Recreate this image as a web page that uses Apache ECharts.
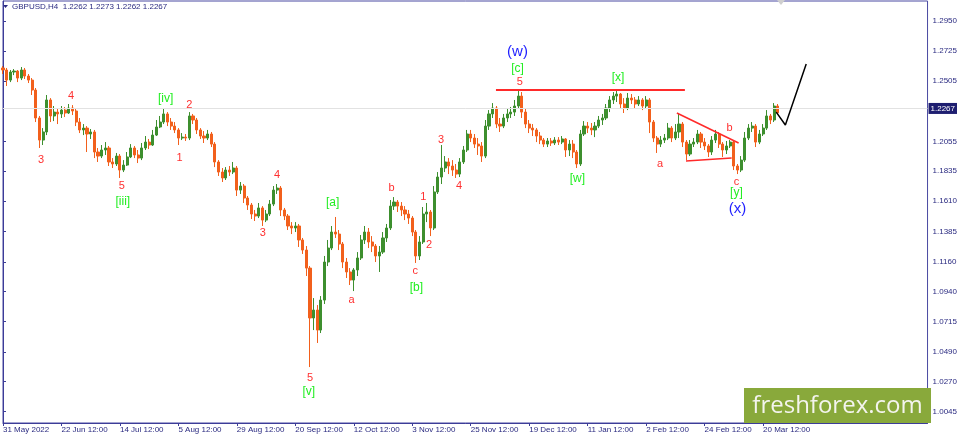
<!DOCTYPE html>
<html>
<head>
<meta charset="utf-8">
<script src="https://cdn.jsdelivr.net/npm/echarts@6/dist/echarts.min.js"></script>
<style>
html,body{margin:0;padding:0;background:#fff;}
#chart{width:960px;height:438px;}
</style>
</head>
<body>
<div id="chart"></div>
<script>
// x-axis tick labels (one every 16 daily candles)
const tickLabels = ["31 May 2022","22 Jun 12:00","14 Jul 12:00","5 Aug 12:00","29 Aug 12:00","20 Sep 12:00","12 Oct 12:00","3 Nov 12:00","25 Nov 12:00","19 Dec 12:00","11 Jan 12:00","2 Feb 12:00","24 Feb 12:00","20 Mar 12:00"];
// price-axis tick labels
const priceTicks = [1.0045,1.0270,1.0490,1.0715,1.0940,1.1160,1.1385,1.1610,1.1835,1.2055,1.2505,1.2725,1.2950];
const lastPrice = 1.2267;
const headerText = "GBPUSD,H4  1.2262 1.2273 1.2262 1.2267";

// candles: [open, close, low, high]
const candles = [
[1.2601,1.2586,1.2556,1.2615],[1.2586,1.2511,1.2467,1.2601],[1.2511,1.2571,1.2496,1.2586],[1.2571,1.2578,1.2548,1.2593],
[1.2578,1.2526,1.2496,1.2586],[1.2526,1.2586,1.2511,1.2608],[1.2586,1.2541,1.2519,1.2601],[1.2541,1.2511,1.2489,1.2556],
[1.2511,1.2437,1.2400,1.2526],[1.2437,1.2229,1.2199,1.2452],[1.2229,1.2065,1.2006,1.2244],[1.2065,1.2125,1.2028,1.2154],
[1.2125,1.2363,1.2102,1.2400],[1.2363,1.2244,1.2199,1.2377],[1.2244,1.2273,1.2206,1.2318],[1.2273,1.2259,1.2184,1.2303],
[1.2259,1.2288,1.2229,1.2318],[1.2288,1.2266,1.2236,1.2311],[1.2266,1.2303,1.2259,1.2333],[1.2303,1.2281,1.2251,1.2325],
[1.2281,1.2199,1.2169,1.2303],[1.2199,1.2140,1.2117,1.2229],[1.2140,1.2154,1.2102,1.2184],[1.2154,1.2110,1.1976,1.2169],
[1.2110,1.2125,1.2073,1.2147],[1.2125,1.1976,1.1931,1.2140],[1.1976,1.1946,1.1902,1.2006],[1.1946,1.1991,1.1931,1.2028],
[1.1991,1.2006,1.1954,1.2050],[1.2006,1.1902,1.1872,1.2021],[1.1902,1.1887,1.1857,1.1931],[1.1887,1.1946,1.1872,1.1969],
[1.1946,1.1842,1.1783,1.1961],[1.1842,1.1879,1.1827,1.1916],[1.1879,1.1939,1.1872,1.1976],[1.1939,1.2006,1.1931,1.2035],
[1.2006,1.1954,1.1931,1.2021],[1.1954,1.1931,1.1894,1.1991],[1.1931,1.2006,1.1916,1.2043],[1.2006,1.2050,1.1991,1.2095],
[1.2050,1.2028,1.1998,1.2073],[1.2028,1.2102,1.2021,1.2140],[1.2102,1.2162,1.2095,1.2214],[1.2162,1.2199,1.2154,1.2244],
[1.2199,1.2259,1.2184,1.2296],[1.2259,1.2199,1.2169,1.2273],[1.2199,1.2169,1.2140,1.2229],[1.2169,1.2140,1.2117,1.2199],
[1.2140,1.2080,1.2028,1.2154],[1.2080,1.2087,1.2065,1.2117],[1.2087,1.2080,1.2058,1.2110],[1.2080,1.2244,1.2065,1.2273],
[1.2244,1.2214,1.2184,1.2259],[1.2214,1.2140,1.2110,1.2229],[1.2140,1.2095,1.2073,1.2154],[1.2095,1.2080,1.2043,1.2132],
[1.2080,1.2110,1.2065,1.2140],[1.2110,1.2035,1.2013,1.2125],[1.2035,1.1902,1.1864,1.2050],[1.1902,1.1827,1.1798,1.1916],
[1.1827,1.1783,1.1753,1.1857],[1.1783,1.1842,1.1768,1.1864],[1.1842,1.1827,1.1798,1.1872],[1.1827,1.1857,1.1812,1.1902],
[1.1857,1.1693,1.1649,1.1872],[1.1693,1.1723,1.1664,1.1753],[1.1723,1.1634,1.1597,1.1738],[1.1634,1.1582,1.1545,1.1649],
[1.1582,1.1515,1.1478,1.1597],[1.1515,1.1500,1.1463,1.1545],[1.1500,1.1560,1.1485,1.1597],[1.1560,1.1470,1.1426,1.1574],
[1.1470,1.1515,1.1455,1.1545],[1.1515,1.1589,1.1500,1.1619],[1.1589,1.1693,1.1574,1.1723],[1.1693,1.1708,1.1664,1.1738],
[1.1708,1.1545,1.1500,1.1723],[1.1545,1.1500,1.1470,1.1560],[1.1500,1.1426,1.1396,1.1515],[1.1426,1.1411,1.1366,1.1455],
[1.1411,1.1426,1.1381,1.1455],[1.1426,1.1322,1.1270,1.1441],[1.1322,1.1247,1.1218,1.1337],[1.1247,1.1113,1.1054,1.1277],
[1.1113,1.0742,1.0377,1.1128],[1.0742,1.0801,1.0652,1.0890],[1.0801,1.0652,1.0556,1.0838],[1.0652,1.0875,1.0630,1.0905],
[1.0875,1.1158,1.0846,1.1203],[1.1158,1.1262,1.1128,1.1322],[1.1262,1.1381,1.1247,1.1426],[1.1381,1.1366,1.1337,1.1493],
[1.1366,1.1292,1.1247,1.1396],[1.1292,1.1158,1.1113,1.1307],[1.1158,1.1084,1.1039,1.1188],[1.1084,1.1024,1.0987,1.1113],
[1.1024,1.1099,1.0942,1.1113],[1.1099,1.1188,1.1054,1.1232],[1.1188,1.1322,1.1173,1.1359],[1.1322,1.1381,1.1292,1.1426],
[1.1381,1.1307,1.1262,1.1411],[1.1307,1.1277,1.1232,1.1351],[1.1277,1.1203,1.1158,1.1292],[1.1203,1.1232,1.1084,1.1277],
[1.1232,1.1337,1.1218,1.1381],[1.1337,1.1411,1.1307,1.1441],[1.1411,1.1574,1.1396,1.1619],[1.1574,1.1604,1.1545,1.1641],
[1.1604,1.1574,1.1530,1.1619],[1.1574,1.1545,1.1500,1.1604],[1.1545,1.1515,1.1470,1.1574],[1.1515,1.1485,1.1441,1.1545],
[1.1485,1.1381,1.1351,1.1500],[1.1381,1.1203,1.1151,1.1396],[1.1203,1.1307,1.1173,1.1351],[1.1307,1.1515,1.1292,1.1567],
[1.1515,1.1530,1.1455,1.1597],[1.1530,1.1411,1.1351,1.1545],[1.1411,1.1679,1.1396,1.1723],[1.1679,1.1790,1.1664,1.1827],
[1.1790,1.1857,1.1738,1.2028],[1.1857,1.1902,1.1827,1.1946],[1.1902,1.1872,1.1812,1.1931],[1.1872,1.1842,1.1798,1.1916],
[1.1842,1.1812,1.1783,1.1887],[1.1812,1.1902,1.1790,1.1931],[1.1902,1.1991,1.1887,1.2021],[1.1991,1.2110,1.1976,1.2140],
[1.2110,1.2080,1.2050,1.2140],[1.2080,1.2035,1.2006,1.2110],[1.2035,1.2021,1.1954,1.2080],[1.2021,1.1946,1.1902,1.2050],
[1.1946,1.2169,1.1931,1.2214],[1.2169,1.2259,1.2140,1.2288],[1.2259,1.2303,1.2229,1.2340],[1.2303,1.2184,1.2154,1.2318],
[1.2184,1.2169,1.2125,1.2229],[1.2169,1.2229,1.2154,1.2259],[1.2229,1.2259,1.2199,1.2296],[1.2259,1.2273,1.2229,1.2311],
[1.2273,1.2318,1.2244,1.2363],[1.2318,1.2392,1.2303,1.2437],[1.2392,1.2273,1.2229,1.2422],[1.2273,1.2184,1.2154,1.2303],
[1.2184,1.2154,1.2117,1.2214],[1.2154,1.2140,1.2095,1.2184],[1.2140,1.2095,1.2050,1.2154],[1.2095,1.2065,1.2035,1.2125],
[1.2065,1.2035,1.2013,1.2080],[1.2035,1.2058,1.2013,1.2080],[1.2058,1.2043,1.2021,1.2080],[1.2043,1.2065,1.2028,1.2087],
[1.2065,1.2050,1.2028,1.2087],[1.2050,1.2073,1.2035,1.2095],[1.2073,1.1991,1.1939,1.2080],[1.1991,1.2035,1.1946,1.2065],
[1.2035,1.1976,1.1931,1.2065],[1.1976,1.1887,1.1857,1.1991],[1.1887,1.2110,1.1872,1.2140],[1.2110,1.2169,1.2095,1.2206],
[1.2169,1.2154,1.2117,1.2199],[1.2154,1.2140,1.2102,1.2192],[1.2140,1.2169,1.2087,1.2199],[1.2169,1.2214,1.2154,1.2244],
[1.2214,1.2229,1.2177,1.2259],[1.2229,1.2303,1.2214,1.2333],[1.2303,1.2363,1.2273,1.2392],[1.2363,1.2392,1.2333,1.2422],
[1.2392,1.2407,1.2348,1.2437],[1.2407,1.2333,1.2303,1.2415],[1.2333,1.2303,1.2266,1.2377],[1.2303,1.2377,1.2288,1.2415],
[1.2377,1.2363,1.2333,1.2407],[1.2363,1.2333,1.2303,1.2385],[1.2333,1.2363,1.2318,1.2392],[1.2363,1.2318,1.2288,1.2377],
[1.2318,1.2363,1.2303,1.2392],[1.2363,1.2199,1.2117,1.2377],[1.2199,1.2080,1.2050,1.2214],[1.2080,1.2035,1.1969,1.2095],
[1.2035,1.2065,1.2013,1.2095],[1.2065,1.2080,1.2043,1.2110],[1.2080,1.2154,1.2065,1.2192],[1.2154,1.2080,1.2050,1.2169],
[1.2080,1.2125,1.2065,1.2184],[1.2125,1.2184,1.2080,1.2266],[1.2184,1.2050,1.2013,1.2199],[1.2050,1.1961,1.1916,1.2065],
[1.1961,1.2035,1.1946,1.2065],[1.2035,1.2050,1.2013,1.2080],[1.2050,1.2110,1.2035,1.2140],[1.2110,1.2050,1.2006,1.2125],
[1.2050,1.2021,1.1991,1.2080],[1.2021,1.1976,1.1939,1.2035],[1.1976,1.2065,1.1954,1.2095],[1.2065,1.2110,1.2043,1.2140],
[1.2110,1.2035,1.2006,1.2125],[1.2035,1.1991,1.1939,1.2050],[1.1991,1.2021,1.1961,1.2058],[1.2021,1.2050,1.2006,1.2065],
[1.2050,1.1872,1.1842,1.2065],[1.1872,1.1842,1.1812,1.1887],[1.1842,1.1916,1.1827,1.1946],[1.1916,1.2080,1.1902,1.2125],
[1.2080,1.2154,1.2065,1.2184],[1.2154,1.2169,1.2125,1.2199],[1.2169,1.2050,1.2013,1.2184],[1.2050,1.2110,1.2035,1.2140],
[1.2110,1.2154,1.2095,1.2184],[1.2154,1.2244,1.2140,1.2288],[1.2244,1.2214,1.2184,1.2259],[1.2214,1.2318,1.2199,1.2340],
[1.2318,1.2267,1.2259,1.2333]
];

// drawn lines in [candle index, price]
const resistanceLine = [[134.9,1.2437],[186.6,1.2437]];
const triangleUpper = [[184.4,1.2266],[201.3,1.2043]];
const triangleLower = [[186.9,1.1909],[199.4,1.1931]];
const projection = [[211.6,1.2273],[214.1,1.2177],[219.8,1.2630]];

// wave labels: [text, candle index, price, kind]
const waveLabels = [
["3",10.4,1.1916,"r"],["4",18.6,1.2392,"r"],["5",32.5,1.1723,"r"],["[iii]",32.8,1.1604,"g"],
["[iv]",44.5,1.2370,"g"],["1",48.3,1.1931,"r"],["2",51.0,1.2325,"r"],["3",71.1,1.1374,"r"],
["4",75.0,1.1805,"r"],["5",84.0,1.0296,"r"],["[v]",83.7,1.0191,"g"],["[a]",90.2,1.1597,"g"],
["a",95.4,1.0875,"r"],["b",106.3,1.1708,"r"],["c",112.8,1.1091,"r"],["[b]",113.1,1.0965,"g"],
["1",115.0,1.1641,"r"],["2",116.6,1.1285,"r"],["3",119.9,1.2065,"r"],["4",124.8,1.1723,"r"],
["(w)",140.8,1.2719,"b"],["[c]",140.8,1.2593,"g"],["5",141.4,1.2496,"r"],["[w]",157.2,1.1775,"g"],
["[x]",168.3,1.2526,"g"],["a",179.8,1.1887,"r"],["b",198.8,1.2154,"r"],["c",200.7,1.1753,"r"],
["[y]",200.7,1.1671,"g"],["(x)",201.0,1.1552,"b"]
];

const N = 254;
const categories = [];
for (let i = 0; i < N; i++) categories.push('d' + i);

const labelStyle = {
  r: {color:'#ff3030', fontSize:11},
  g: {color:'#22ee22', fontSize:12},
  b: {color:'#1f1fff', fontSize:15}
};

function isTick(idx){ return idx % 16 === 0 && idx / 16 < tickLabels.length; }

const chart = echarts.init(document.getElementById('chart'), null, {renderer:'canvas'});
const font = 'Liberation Sans, Arial, sans-serif';

function lineSeries(data, color, width) {
  return {
    type:'line', xAxisIndex:1, yAxisIndex:0, data:data, symbol:'none',
    lineStyle:{color:color, width:width}, silent:true, animation:false, z:5
  };
}

chart.setOption({
  animation:false,
  backgroundColor:'#ffffff',
  grid:{left:1.7, right:29, top:1, bottom:15, show:true, borderColor:'#4a4aa2', borderWidth:1},
  xAxis:[{
    type:'category', data:categories, boundaryGap:false,
    axisLine:{lineStyle:{color:'#3c3c98', width:1}},
    axisTick:{show:true, interval:function(idx){ return isTick(idx); }, length:3, lineStyle:{color:'#3c3c98'}},
    axisLabel:{interval:function(idx){ return isTick(idx); }, align:'left', margin:3, fontSize:8, fontFamily:font, color:'#2a2a80',
      formatter:function(v, idx){ return tickLabels[idx/16] || ''; }},
    splitLine:{show:false}
  },{
    type:'value', min:0, max:N-1, show:false
  }],
  yAxis:[{
    type:'value', position:'right', min:0.9961, max:1.3099,
    axisLine:{show:true, lineStyle:{color:'#3c3c98', width:1}},
    axisTick:{show:true, length:3, customValues:priceTicks, lineStyle:{color:'#3c3c98'}},
    axisLabel:{customValues:priceTicks, margin:5, fontSize:8, fontFamily:font, color:'#2a2a80',
      formatter:function(v){ return v.toFixed(4); }},
    splitLine:{show:false}
  }],
  series:[
    {
      type:'candlestick', xAxisIndex:0, yAxisIndex:0, data:candles, barWidth:2.6,
      itemStyle:{color:'#3d8f2e', color0:'#f2601c', borderColor:'#3d8f2e', borderColor0:'#f2601c', borderWidth:1},
      markLine:{
        silent:true, symbol:'none', animation:false,
        lineStyle:{color:'#e2e2e2', type:'solid', width:1},
        label:{show:true, position:'end', distance:1, formatter:lastPrice.toFixed(4),
          backgroundColor:'#1e1e70', color:'#ffffff', padding:[2,2,1,2], fontSize:8, fontFamily:font},
        data:[{yAxis:lastPrice}]
      },
      z:3
    },
    lineSeries(resistanceLine, '#ff2a2a', 2),
    lineSeries(triangleUpper, '#ff2a2a', 1.5),
    lineSeries(triangleLower, '#ff2a2a', 1.5),
    lineSeries(projection, '#000000', 1.5),
    {
      type:'scatter', xAxisIndex:1, yAxisIndex:0, symbolSize:1, silent:true, z:6,
      itemStyle:{opacity:0},
      data: waveLabels.map(function(w){
        const s = labelStyle[w[3]];
        return {name:w[0], value:[w[1], w[2]],
          label:{show:true, position:'inside', formatter:w[0], color:s.color, opacity:1, fontSize:s.fontSize,
            fontFamily:'Arial, Liberation Sans, sans-serif'}};
      })
    }
  ],
  graphic:[
    {type:'polygon', shape:{points:[[3,5],[8,5],[5.5,8]]}, style:{fill:'#2a2a80'}, silent:true},
    {type:'text', left:12, top:3, style:{text:headerText, fill:'#2a2a80', font:'8px Liberation Sans, Arial, sans-serif'}, silent:true},
    {type:'polygon', shape:{points:[[777,0],[785,0],[781,5]]}, style:{fill:'#cfcfcf'}, silent:true},
    {type:'rect', shape:{x:744, y:388, width:187, height:35}, style:{fill:'#89a93b'}, silent:true, z:10},
    {type:'text', x:837.5, y:406, style:{text:'freshforex.com', fill:'#f4f4ee', font:'24px Open Sans, sans-serif', align:'center', verticalAlign:'middle'}, silent:true, z:11}
  ]
});
</script>
</body>
</html>
